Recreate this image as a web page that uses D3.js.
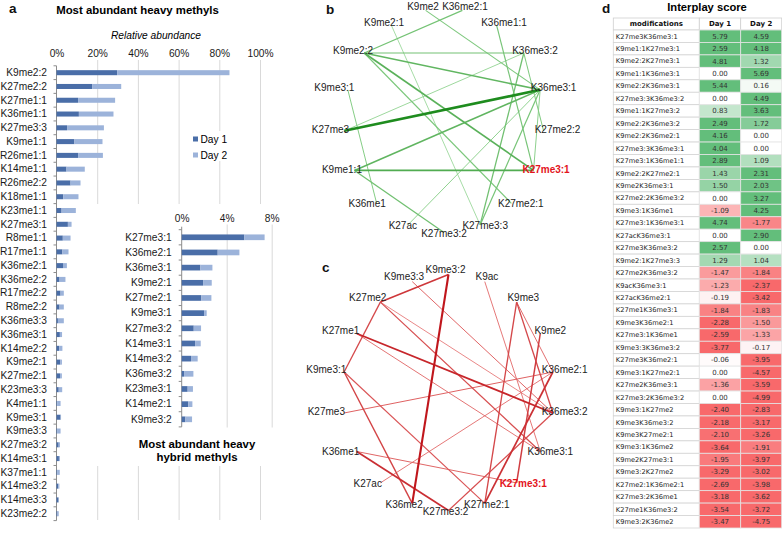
<!DOCTYPE html>
<html><head><meta charset="utf-8">
<script src="https://cdn.jsdelivr.net/npm/d3@7"></script>
<style>body{margin:0;background:#fff}</style>
</head><body>
<svg id="chart" width="782" height="534"></svg>
<script>
// ---------- DATA ----------
const heavyLabels = ["K9me2:2","K27me2:2","K27me1:1","K36me1:1","K27me3:3","K9me1:1","R26me1:1","K14me1:1","R26me2:2","K18me1:1","K23me1:1","K27me3:1","R8me1:1","R17me1:1","K36me2:1","K36me2:2","R17me2:2","R8me2:2","K36me3:3","K36me3:1","K14me2:2","K9me2:1","K27me2:1","K23me3:3","K4me1:1","K9me3:1","K9me3:3","K27me3:2","K14me3:1","K37me1:1","K14me3:2","K14me3:3","K23me2:2"];
const heavyDay1 = [29.8,17.5,10.6,11.0,5.2,8.8,10.6,4.9,6.9,3.3,2.5,5.6,3.1,2.9,3.2,1.5,2.0,1.5,0.7,1.66,1.3,1.9,1.75,1.1,0.3,2.0,0.3,1.07,1.19,0.3,0.83,1.0,0.5];
const heavyDay2 = [55.2,14.3,18.2,17.0,18.1,13.8,12.2,9.0,4.9,7.5,7.0,1.8,3.8,3.0,1.9,2.9,1.6,2.1,2.9,1.07,1.6,0.77,0.89,1.7,1.7,0.23,1.7,0.65,0.5,1.3,0.59,0.1,0.6];
const mainTicks = [0,20,40,60,80,100];

const hybridLabels = ["K27me3:1","K36me2:1","K36me3:1","K9me2:1","K27me2:1","K9me3:1","K27me3:2","K14me3:1","K14me3:2","K36me3:2","K23me3:1","K14me2:1","K9me3:2"];
const hybridDay1 = [5.57,3.2,1.66,1.9,1.75,1.99,1.07,1.19,0.83,0.21,0.53,0.59,0.33];
const hybridDay2 = [1.8,1.93,1.07,0.77,0.89,0.23,0.65,0.5,0.59,0.83,0.47,0.36,0.59];
const insetTicks = [0,4,8];
const seriesNames = ["Day 1","Day 2"];

const netBNodes = ["K36me2:1","K36me1:1","K36me3:2","K36me3:1","K27me2:2","K27me3:1","K27me2:1","K27me3:3","K27me3:2","K27ac","K36me1","K9me1:1","K27me3","K9me3:1","K9me2:2","K9me2:1","K9me2"];
const netCNodes = ["K9me3:2","K9ac","K9me3","K9me2","K36me2:1","K36me3:2","K36me3:1","K27me3:1","K27me2:1","K27me3:2","K36me2","K27ac","K36me1","K27me3","K9me3:1","K27me1","K27me2","K9me3:3"];
const focusNode = "K27me3:1";

const mods = ["K27me3K36me3:1","K9me1:1K27me3:1","K9me2:2K27me3:1","K9me1:1K36me3:1","K9me2:2K36me3:1","K27me3:3K36me3:2","K9me1:1K27me3:2","K9me2:2K36me3:2","K9me2:2K36me2:1","K27me3:3K36me3:1","K27me3:1K36me1:1","K9me2:2K27me2:1","K9me2K36me3:1","K27me2:2K36me3:2","K9me3:1K36me1","K27me3:1K36me3:1","K27acK36me3:1","K27me3K36me3:2","K9me2:1K27me3:3","K27me2K36me3:2","K9acK36me3:1","K27acK36me2:1","K27me1K36me3:1","K9me3K36me2:1","K27me3:1K36me1","K9me3:3K36me3:2","K27me3K36me2:1","K9me3:1K27me2:1","K27me2K36me3:1","K27me3:2K36me3:2","K9me3:1K27me2","K9me3K36me3:2","K9me3K27me2:1","K9me3:1K36me2","K9me2K27me3:1","K9me3:2K27me2","K27me2:1K36me2:1","K27me3:2K36me1","K27me1K36me3:2","K9me3:2K36me2"];
const scoreDay1 = [5.79,2.59,4.81,0.00,5.44,0.00,0.83,2.49,4.16,4.04,2.89,1.43,1.50,0.00,-1.09,4.74,0.00,2.57,1.29,-1.47,-1.23,-0.19,-1.84,-2.28,-2.59,-3.77,-0.06,0.00,-1.36,0.00,-2.40,-2.18,-2.10,-3.64,-1.95,-3.29,-2.69,-3.18,-3.54,-3.47];
const scoreDay2 = [4.59,4.18,1.32,5.69,0.16,4.49,3.63,1.72,0.00,0.00,1.09,2.31,2.03,3.27,4.25,-1.77,2.90,0.00,1.04,-1.84,-2.37,-3.42,-1.83,-1.50,-1.33,-0.17,-3.95,-4.57,-3.59,-4.99,-2.83,-3.17,-3.26,-1.91,-3.97,-3.02,-3.98,-3.62,-3.72,-4.75];
const tableHeaders = ["modifications","Day 1","Day 2"];

// ---------- SETUP ----------
const svg = d3.select("#chart");
const SANS = "'Liberation Sans', Arial, sans-serif";
const C1 = "#4a6ea8", C2 = "#9cb3da", GRID = "#d9d9d9", AX = "#8c8c8c";

function panelLetter(t, x, y) {
  svg.append("text").attr("x", x).attr("y", y).text(t)
    .attr("font-family", SANS).attr("font-weight", "bold").attr("font-size", 13.5).attr("fill", "#111");
}

// ---------- PANEL A ----------
panelLetter("a", 9, 12.5);
svg.append("text").attr("x", 137.5).attr("y", 14).attr("text-anchor", "middle")
  .attr("font-family", SANS).attr("font-weight", "bold").attr("font-size", 11.4).text("Most abundant heavy methyls");
svg.append("text").attr("x", 156).attr("y", 38.5).attr("text-anchor", "middle")
  .attr("font-family", SANS).attr("font-style", "italic").attr("font-size", 10.2).text("Relative abundance");

const xMain = d3.scaleLinear().domain([0, 100]).range([56.5, 260]);
const yMain = d3.scaleBand().domain(heavyLabels).range([65.8, 520.6]).paddingInner(0.635).paddingOuter(0.3175);

const gA = svg.append("g");
const xAx = gA.append("g").attr("transform", "translate(0,60)")
  .call(d3.axisTop(xMain).tickValues(mainTicks).tickFormat(d => d + "%").tickSize(-460).tickPadding(3));
xAx.select(".domain").remove();
xAx.selectAll(".tick line").attr("stroke", GRID).attr("stroke-width", 1).filter(d => d === 0).remove();
xAx.selectAll(".tick text").attr("font-family", SANS).attr("font-size", 10.2).attr("fill", "#1a1a1a");

const yAx = gA.append("g").attr("transform", `translate(${xMain(0)},0)`)
  .call(d3.axisLeft(yMain).tickSize(0).tickPadding(9.5));
yAx.select(".domain").attr("stroke", AX).attr("d", `M0,${yMain.range()[0]}V${yMain.range()[1]}`);
yAx.selectAll(".tick text").attr("font-family", SANS).attr("font-size", 10.2).attr("fill", "#1a1a1a");
const padMain = (yMain.step() - yMain.bandwidth()) / 2;
gA.append("g").selectAll("line").data(heavyLabels.concat(["__end"])).join("line")
  .attr("x1", xMain(0) - 3).attr("x2", xMain(0))
  .attr("y1", (d, i) => i < heavyLabels.length ? yMain(d) - padMain : yMain.range()[1])
  .attr("y2", (d, i) => i < heavyLabels.length ? yMain(d) - padMain : yMain.range()[1])
  .attr("stroke", AX);

gA.append("g").selectAll("rect").data(heavyLabels).join("rect")
  .attr("x", xMain(0)).attr("y", d => yMain(d))
  .attr("width", (d, i) => xMain(heavyDay1[i]) - xMain(0)).attr("height", yMain.bandwidth()).attr("fill", C1);
gA.append("g").selectAll("rect").data(heavyLabels).join("rect")
  .attr("x", (d, i) => xMain(heavyDay1[i])).attr("y", d => yMain(d))
  .attr("width", (d, i) => xMain(heavyDay1[i] + heavyDay2[i]) - xMain(heavyDay1[i])).attr("height", yMain.bandwidth()).attr("fill", C2);

// legend
const lg = gA.append("g");
lg.append("rect").attr("x", 190).attr("y", 131).attr("width", 40).attr("height", 30).attr("fill", "#fff");
seriesNames.forEach((s, i) => {
  lg.append("rect").attr("x", 193).attr("y", 136.5 + i * 16).attr("width", 5).attr("height", 5).attr("fill", i ? C2 : C1);
  lg.append("text").attr("x", 200.5).attr("y", 142.6 + i * 16).attr("font-family", SANS).attr("font-size", 10.2).text(s);
});

// inset
const gI = svg.append("g");
gI.append("rect").attr("x", 84).attr("y", 204).attr("width", 206).attr("height", 262).attr("fill", "#fff");
const xIn = d3.scaleLinear().domain([0, 8]).range([181.7, 271.7]);
const yIn = d3.scaleBand().domain(hybridLabels).range([229.7, 426.9]).paddingInner(0.625).paddingOuter(0.3125);
const xInAx = gI.append("g").attr("transform", "translate(0,224.5)")
  .call(d3.axisTop(xIn).tickValues(insetTicks).tickFormat(d => d + "%").tickSize(-203).tickPadding(3));
xInAx.select(".domain").remove();
xInAx.selectAll(".tick line").attr("stroke", GRID).filter(d => d === 0).remove();
xInAx.selectAll(".tick text").attr("font-family", SANS).attr("font-size", 10.2).attr("fill", "#1a1a1a");
const yInAx = gI.append("g").attr("transform", `translate(${xIn(0)},0)`)
  .call(d3.axisLeft(yIn).tickSize(0).tickPadding(10));
yInAx.select(".domain").attr("stroke", AX).attr("d", `M0,${yIn.range()[0] - 3}V${yIn.range()[1]}`);
yInAx.selectAll(".tick text").attr("font-family", SANS).attr("font-size", 10.2).attr("fill", "#1a1a1a");
const padIn = (yIn.step() - yIn.bandwidth()) / 2;
gI.append("g").selectAll("line").data(hybridLabels.concat(["__end"])).join("line")
  .attr("x1", xIn(0) - 3).attr("x2", xIn(0))
  .attr("y1", (d, i) => i < hybridLabels.length ? yIn(d) - padIn : yIn.range()[1])
  .attr("y2", (d, i) => i < hybridLabels.length ? yIn(d) - padIn : yIn.range()[1])
  .attr("stroke", AX);
gI.append("g").selectAll("rect").data(hybridLabels).join("rect")
  .attr("x", xIn(0)).attr("y", d => yIn(d))
  .attr("width", (d, i) => xIn(hybridDay1[i]) - xIn(0)).attr("height", yIn.bandwidth()).attr("fill", C1);
gI.append("g").selectAll("rect").data(hybridLabels).join("rect")
  .attr("x", (d, i) => xIn(hybridDay1[i])).attr("y", d => yIn(d))
  .attr("width", (d, i) => xIn(hybridDay1[i] + hybridDay2[i]) - xIn(hybridDay1[i])).attr("height", yIn.bandwidth()).attr("fill", C2);
const it = gI.append("text").attr("text-anchor", "middle").attr("font-family", SANS).attr("font-weight", "bold").attr("font-size", 11.4);
it.append("tspan").attr("x", 197).attr("y", 448).text("Most abundant heavy");
it.append("tspan").attr("x", 197).attr("y", 461).text("hybrid methyls");

// ---------- NETWORKS ----------
const pairs = mods.map((m, i) => {
  const mm = m.match(/^(K.+?)(K.+)$/);
  return { a: mm[1], b: mm[2], d1: scoreDay1[i], d2: scoreDay2[i], s: scoreDay1[i] + scoreDay2[i] };
});

function drawNet(nodes, edges, o) {
  const g = svg.append("g");
  const ang = d3.scaleLinear().domain([0, nodes.length]).range([o.start, o.start + 2 * Math.PI]);
  const pos = {};
  nodes.forEach((n, i) => {
    const a = ang(i);
    pos[n] = {
      nx: o.cx + o.dx + o.rx * Math.sin(a), ny: o.cy + o.dy - o.ry * Math.cos(a),
      lx: o.cx + o.rl * Math.sin(a), ly: o.cy - o.rl * Math.cos(a)
    };
  });
  const ext = d3.extent(edges, e => Math.abs(e.s));
  const w = d3.scaleLinear().domain(ext).range(o.wRange);
  const col = d3.scaleLinear().domain(ext).range(o.cRange);
  const sorted = edges.slice().sort((p, q) => Math.abs(p.s) - Math.abs(q.s));
  g.append("g").selectAll("line").data(sorted).join("line")
    .attr("x1", e => pos[e.a].nx).attr("y1", e => pos[e.a].ny)
    .attr("x2", e => pos[e.b].nx).attr("y2", e => pos[e.b].ny)
    .attr("stroke", e => col(Math.abs(e.s))).attr("stroke-width", e => w(Math.abs(e.s)));
  g.append("g").selectAll("text").data(nodes).join("text")
    .attr("x", n => pos[n].lx).attr("y", n => pos[n].ly).attr("dy", "0.35em")
    .attr("text-anchor", "middle").attr("font-family", SANS).attr("font-size", 10)
    .attr("font-weight", n => n === focusNode ? "bold" : "normal")
    .attr("fill", n => n === focusNode ? "#e3141c" : "#222").text(n => n);
}

panelLetter("b", 326, 13.5);
drawNet(netBNodes, pairs.filter(p => p.s > 0), {
  cx: 444, cy: 119, rl: 114, rx: 100, ry: 112, dx: 0, dy: 1.5, start: Math.PI / 17,
  wRange: [0.8, 2.6], cRange: ["#8fd38f", "#1e8c1e"]
});
panelLetter("c", 322, 272);
drawNet(netCNodes, pairs.filter(p => p.s < 0), {
  cx: 445.5, cy: 390.5, rl: 121, rx: 106, ry: 118, dx: 3, dy: 2, start: 0,
  wRange: [0.8, 2.1], cRange: ["#e36a6a", "#c0161c"]
});

// ---------- PANEL D (table) ----------
panelLetter("d", 602, 12.5);
svg.append("text").attr("x", 707).attr("y", 10.5).attr("text-anchor", "middle")
  .attr("font-family", SANS).attr("font-weight", "bold").attr("font-size", 11.2).text("Interplay score");
const TF = "'DejaVu Sans', Verdana, sans-serif";
const colX = d3.scaleOrdinal().domain(tableHeaders).range([613.3, 699.3, 740.7]);
const colW = d3.scaleOrdinal().domain(tableHeaders).range([86, 41.4, 41]);
const yT = d3.scaleBand().domain(d3.range(mods.length)).range([30, 528]);
const heat = d3.scaleLinear().domain([-2.2, 0, 2.2]).range(["#F8696B", "#FFFFFF", "#63BE7B"]).clamp(true);
const gT = svg.append("g");
tableHeaders.forEach(h => {
  gT.append("rect").attr("x", colX(h)).attr("y", 18).attr("width", colW(h)).attr("height", 12)
    .attr("fill", "#fff").attr("stroke", "#cfcfcf").attr("stroke-width", 0.8);
  gT.append("text").attr("x", colX(h) + colW(h) / 2).attr("y", 24).attr("dy", "0.35em")
    .attr("text-anchor", "middle").attr("font-family", TF).attr("font-weight", "bold").attr("font-size", 7).attr("fill", "#111").text(h);
});
const rows = gT.append("g").selectAll("g").data(mods).join("g")
  .attr("transform", (d, i) => `translate(0,${yT(i)})`);
rows.append("rect").attr("x", colX(tableHeaders[0])).attr("width", colW(tableHeaders[0])).attr("height", yT.bandwidth())
  .attr("fill", "#fff").attr("stroke", "#d4d4d4").attr("stroke-width", 0.8);
rows.append("text").attr("x", colX(tableHeaders[0]) + 2.5).attr("y", yT.bandwidth() / 2).attr("dy", "0.35em")
  .attr("font-family", TF).attr("font-size", 6.7).attr("fill", "#222").text(d => d);
[scoreDay1, scoreDay2].forEach((arr, k) => {
  const h = tableHeaders[k + 1];
  rows.append("rect").attr("x", colX(h)).attr("width", colW(h)).attr("height", yT.bandwidth())
    .attr("fill", (d, i) => heat(arr[i])).attr("stroke", "#e4e4e4").attr("stroke-width", 0.8);
  rows.append("text").attr("x", colX(h) + colW(h) / 2).attr("y", yT.bandwidth() / 2).attr("dy", "0.35em")
    .attr("text-anchor", "middle").attr("font-family", TF).attr("font-size", 7).attr("fill", "#333")
    .text((d, i) => arr[i].toFixed(2));
});
</script>
</body></html>
